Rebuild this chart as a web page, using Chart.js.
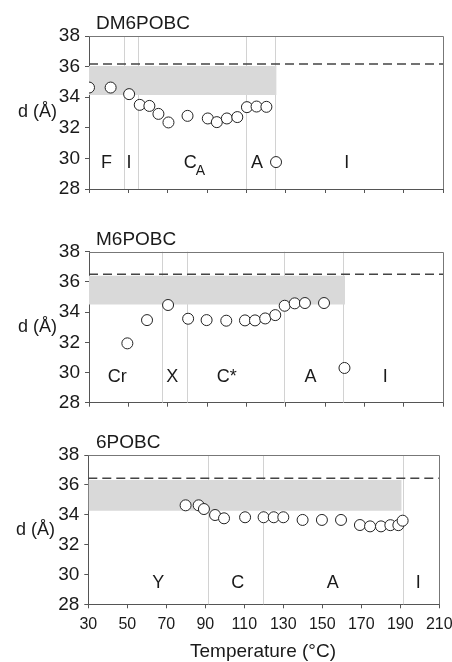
<!DOCTYPE html>
<html>
<head>
<meta charset="utf-8">
<script src="https://cdn.jsdelivr.net/npm/chart.js@4.4.0/dist/chart.umd.min.js"></script>
<style>
  html, body { margin: 0; padding: 0; background: #fff; }
  body { width: 452px; height: 662px; position: relative; overflow: hidden; }
  canvas { position: absolute; left: 0; }
</style>
</head>
<body>
<canvas id="dm6" width="452" height="205" style="top:0px"></canvas>
<canvas id="m6" width="452" height="205" style="top:215px"></canvas>
<canvas id="p6" width="452" height="244" style="top:418px"></canvas>
<script>
// DM6POBC
const dm6Temp = [30, 41, 50.4, 55.8, 60.7, 65.3, 70.4, 80.1, 90.4, 95, 100.1, 105.4, 110.3, 115.2, 120.2, 125.1];
const dm6D = [34.63, 34.63, 34.2, 33.5, 33.43, 32.91, 32.35, 32.78, 32.61, 32.37, 32.61, 32.7, 33.35, 33.39, 33.37, 29.76];
const dm6Bounds = [47.8, 55, 109.8, 124.8];
const dm6BandT = [30, 125.4];
const dm6BandD = [34.14, 36.04];
const dm6DashD = 36.17;
const dm6Phases = ['F', 'I', 'C_A', 'A', 'I'];
const dm6PhaseT = [38.9, 50.4, 83.8, 115.4, 161.1];

// M6POBC
const m6Temp = [49.5, 59.5, 70.2, 80.4, 89.8, 99.8, 109.3, 114.4, 119.6, 124.7, 129.5, 134.6, 139.8, 149.5, 159.9];
const m6D = [31.93, 33.47, 34.47, 33.56, 33.47, 33.43, 33.45, 33.45, 33.58, 33.8, 34.42, 34.58, 34.6, 34.6, 30.3];
const m6Bounds = [67.2, 79.6, 129.3, 159.4];
const m6BandT = [30, 160.2];
const m6BandD = [34.5, 36.4];
const m6DashD = 36.5;
const m6Phases = ['Cr', 'X', 'C*', 'A', 'I'];
const m6PhaseT = [44.3, 72.3, 100, 142.6, 180.6];

// 6POBC
const p6Temp = [79.9, 86.6, 89.3, 95, 99.6, 110.4, 119.9, 125.1, 130, 139.9, 149.8, 159.6, 169.3, 174.5, 180.1, 184.9, 189, 191.2];
const p6D = [34.63, 34.63, 34.38, 33.98, 33.76, 33.83, 33.83, 33.83, 33.83, 33.65, 33.65, 33.65, 33.31, 33.22, 33.22, 33.3, 33.3, 33.6];
const p6Bounds = [91.5, 119.7, 191.5];
const p6BandT = [30, 190.7];
const p6BandD = [34.27, 36.33];
const p6DashD = 36.44;
const p6Phases = ['Y', 'C', 'A', 'I'];
const p6PhaseT = [65.9, 106.6, 155.3, 199.2];

const xTicks = [30, 50, 70, 90, 110, 130, 150, 170, 190, 210];
const yTicks = [28, 30, 32, 34, 36, 38];

const FONT = '"Liberation Sans", Arial, sans-serif';
const INK = '#1a1a1a';
const AXIS = '#555555';

const panelDecor = {
  id: 'panelDecor',
  beforeDatasetsDraw(chart, args, opts) {
    const { ctx, chartArea, scales: { x } } = chart;
    ctx.save();
    ctx.strokeStyle = '#d2d2d2';
    ctx.lineWidth = 1;
    opts.bounds.forEach(t => {
      const px = Math.round(x.getPixelForValue(t)) + 0.5;
      ctx.beginPath();
      ctx.moveTo(px, chartArea.top);
      ctx.lineTo(px, chartArea.bottom);
      ctx.stroke();
    });
    ctx.restore();
  },
  afterDraw(chart, args, opts) {
    const { ctx, chartArea, scales: { x, y } } = chart;
    ctx.save();
    // frame top / right
    ctx.strokeStyle = '#777';
    ctx.lineWidth = 1;
    ctx.beginPath();
    ctx.moveTo(chartArea.left, Math.round(chartArea.top) + 0.5);
    ctx.lineTo(Math.round(chartArea.right) + 0.5, Math.round(chartArea.top) + 0.5);
    ctx.lineTo(Math.round(chartArea.right) + 0.5, chartArea.bottom);
    ctx.stroke();

    ctx.fillStyle = INK;
    ctx.textBaseline = 'middle';
    // panel title
    ctx.font = '19px ' + FONT;
    ctx.textAlign = 'left';
    ctx.fillText(opts.title, 96, chartArea.top - 12);
    // y title
    ctx.font = '18px ' + FONT;
    ctx.textAlign = 'right';
    ctx.fillText('d (Å)', opts.yTitleX, (chartArea.top + chartArea.bottom) / 2);
    // phase labels
    const py = y.getPixelForValue(opts.labelD);
    opts.phases.forEach((name, i) => {
      const px = x.getPixelForValue(opts.phaseT[i]);
      if (name.includes('_')) {
        const [main, sub] = name.split('_');
        ctx.font = '18px ' + FONT;
        const w1 = ctx.measureText(main).width;
        ctx.font = '14px ' + FONT;
        const w2 = ctx.measureText(sub).width;
        const start = px - (w1 + w2) / 2;
        ctx.textAlign = 'left';
        ctx.font = '18px ' + FONT;
        ctx.fillText(main, start, py);
        ctx.font = '14px ' + FONT;
        ctx.fillText(sub, start + w1 - 1, py + 8);
      } else {
        ctx.font = '18px ' + FONT;
        ctx.textAlign = 'center';
        ctx.fillText(name, px, py);
      }
    });
    if (opts.xTitle) {
      ctx.font = '19px ' + FONT;
      ctx.textAlign = 'center';
      ctx.fillText(opts.xTitle, 263, chartArea.bottom + 47.5);
    }
    ctx.restore();
  }
};

function makePanel(id, p) {
  const pts = p.temp.map((t, i) => ({ x: t, y: p.d[i] }));
  const bandTop = p.bandT.map(t => ({ x: t, y: p.bandD[1] }));
  const dash = [{ x: 30, y: p.dashD }, { x: 210, y: p.dashD }];
  new Chart(document.getElementById(id), {
    type: 'scatter',
    data: {
      datasets: [
        {
          data: pts,
          order: 1,
          pointRadius: 5.5,
          pointHoverRadius: 5.5,
          pointBackgroundColor: '#ffffff',
          pointBorderColor: '#222222',
          pointBorderWidth: 1,
        },
        {
          data: dash,
          order: 2,
          showLine: true,
          pointRadius: 0,
          borderColor: '#444444',
          borderWidth: 1.5,
          borderDash: [9, 5],
        },
        {
          data: bandTop,
          order: 3,
          showLine: true,
          pointRadius: 0,
          borderWidth: 0,
          borderColor: 'rgba(0,0,0,0)',
          backgroundColor: '#d9d9d9',
          fill: { value: p.bandD[0] },
        },
      ],
    },
    options: {
      responsive: false,
      animation: false,
      events: [],
      layout: { padding: { top: p.top, right: p.right, left: 0, bottom: 0 } },
      plugins: {
        legend: { display: false },
        tooltip: { enabled: false },
        panelDecor: {
          title: p.title,
          bounds: p.bounds,
          phases: p.phases,
          phaseT: p.phaseT,
          labelD: p.labelD,
          yTitleX: p.yTitleX,
          xTitle: p.xTitle,
        },
      },
      scales: {
        x: {
          type: 'linear',
          min: 30,
          max: 210,
          afterBuildTicks: s => { s.ticks = xTicks.map(v => ({ value: v })); },
          afterFit: s => { s.height = p.xh; s.paddingLeft = 0; s.paddingRight = 0; },
          border: { color: AXIS, width: 1 },
          grid: { drawOnChartArea: false, tickLength: 4, tickColor: AXIS },
          ticks: {
            display: p.showX,
            color: INK,
            padding: 7,
            maxRotation: 0,
            autoSkip: false,
            font: { family: FONT, size: 16 },
          },
        },
        y: {
          min: 28,
          max: 38,
          afterBuildTicks: s => { s.ticks = yTicks.map(v => ({ value: v })); },
          afterFit: s => { s.width = p.yw; s.paddingTop = 0; s.paddingBottom = 0; },
          border: { color: AXIS, width: 1 },
          grid: { drawOnChartArea: false, tickLength: 4, tickColor: AXIS },
          ticks: {
            color: INK,
            padding: 5,
            font: { family: FONT, size: 19 },
          },
        },
      },
    },
    plugins: [panelDecor],
  });
}

makePanel('dm6', {
  title: 'DM6POBC', temp: dm6Temp, d: dm6D, bounds: dm6Bounds,
  bandT: dm6BandT, bandD: dm6BandD, dashD: dm6DashD,
  phases: dm6Phases, phaseT: dm6PhaseT, labelD: 29.7,
  top: 36, right: 9, xh: 16, yw: 89, showX: false, yTitleX: 57,
});
makePanel('m6', {
  title: 'M6POBC', temp: m6Temp, d: m6D, bounds: m6Bounds,
  bandT: m6BandT, bandD: m6BandD, dashD: m6DashD,
  phases: m6Phases, phaseT: m6PhaseT, labelD: 29.7,
  top: 36.7, right: 9, xh: 17.3, yw: 89, showX: false, yTitleX: 57,
});
makePanel('p6', {
  title: '6POBC', temp: p6Temp, d: p6D, bounds: p6Bounds,
  bandT: p6BandT, bandD: p6BandD, dashD: p6DashD,
  phases: p6Phases, phaseT: p6PhaseT, labelD: 29.4,
  top: 37, right: 12.7, xh: 57.7, yw: 88.3, showX: true, yTitleX: 55,
  xTitle: 'Temperature (°C)',
});
</script>
</body>
</html>
